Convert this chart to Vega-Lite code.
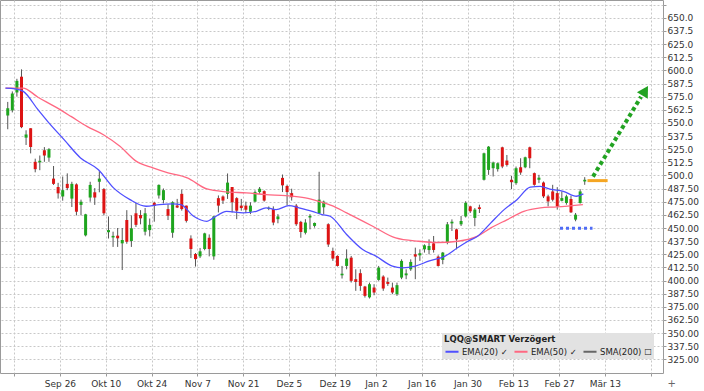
{
  "$schema": "https://vega.github.io/schema/vega-lite/v6.json",
  "width": 663,
  "height": 373,
  "autosize": {"type": "none"},
  "padding": {"left": 0, "top": 0, "right": 41, "bottom": 18},
  "background": "white",
  "config": {
    "font": "DejaVu Sans",
    "view": {"stroke": "#9a9a9a", "strokeWidth": 1},
    "axis": {"labelOverlap": false}
  },
  "datasets": {
    "candles": [
      {"i":0,"o":557,"h":570,"l":544,"c":564},
      {"i":1,"o":562,"h":580,"l":560,"c":578},
      {"i":2,"o":579,"h":592,"l":575,"c":590},
      {"i":3,"o":594,"h":601,"l":545,"c":546},
      {"i":4,"o":536,"h":543,"l":529,"c":539},
      {"i":5,"o":545,"h":545,"l":521,"c":527},
      {"i":6,"o":513,"h":516,"l":503,"c":506},
      {"i":7,"o":512.5,"h":519,"l":505,"c":514},
      {"i":8,"o":524,"h":527,"l":513,"c":519},
      {"i":9,"o":517,"h":526,"l":513,"c":525},
      {"i":10,"o":497,"h":509,"l":491,"c":492},
      {"i":11,"o":489,"h":493,"l":478,"c":483},
      {"i":12,"o":480,"h":499,"l":476,"c":486},
      {"i":13,"o":492,"h":502,"l":486,"c":488},
      {"i":14,"o":478,"h":494,"l":470,"c":492},
      {"i":15,"o":491.5,"h":492.5,"l":462,"c":465.5},
      {"i":16,"o":472,"h":477,"l":462,"c":475},
      {"i":17,"o":443,"h":463.5,"l":442,"c":463},
      {"i":18,"o":479,"h":494,"l":475,"c":491},
      {"i":19,"o":484,"h":488,"l":472,"c":479},
      {"i":20,"o":494,"h":504,"l":484,"c":497},
      {"i":21,"o":487,"h":488,"l":462,"c":464},
      {"i":22,"o":446,"h":461,"l":440,"c":448},
      {"i":23,"o":441,"h":446.5,"l":432,"c":442.5},
      {"i":24,"o":442.7,"h":450,"l":432,"c":440.2},
      {"i":25,"o":435.4,"h":450,"l":410,"c":438.6},
      {"i":26,"o":457.6,"h":467,"l":435,"c":437},
      {"i":27,"o":437.6,"h":462,"l":432,"c":449.7},
      {"i":28,"o":464,"h":474,"l":451,"c":453},
      {"i":29,"o":462.3,"h":467,"l":453.5,"c":459.2},
      {"i":30,"o":446.5,"h":469,"l":443,"c":464},
      {"i":31,"o":448,"h":459,"l":442,"c":453},
      {"i":32,"o":474,"h":475,"l":456,"c":471},
      {"i":33,"o":481,"h":491.5,"l":478,"c":491},
      {"i":34,"o":476.6,"h":487.6,"l":473.4,"c":486},
      {"i":35,"o":468,"h":472.5,"l":457.6,"c":461.7},
      {"i":36,"o":445.5,"h":475.5,"l":440.7,"c":474.5},
      {"i":37,"o":471.4,"h":477.7,"l":469,"c":469.5},
      {"i":38,"o":482.5,"h":486.7,"l":466.5,"c":468},
      {"i":39,"o":471.3,"h":471.3,"l":455.2,"c":456.8},
      {"i":40,"o":440,"h":443,"l":421.4,"c":430},
      {"i":41,"o":425.2,"h":426.2,"l":413.3,"c":420.4},
      {"i":42,"o":423,"h":431,"l":421.4,"c":427.8},
      {"i":43,"o":430,"h":445.5,"l":428.8,"c":444.9},
      {"i":44,"o":440.7,"h":443.9,"l":423,"c":430},
      {"i":45,"o":423,"h":461.6,"l":419.8,"c":461},
      {"i":46,"o":478.4,"h":481,"l":464.8,"c":471.3},
      {"i":47,"o":480,"h":481,"l":472.9,"c":476.1},
      {"i":48,"o":482.5,"h":501.9,"l":477.7,"c":493.2},
      {"i":49,"o":489,"h":489,"l":464.8,"c":474.5},
      {"i":50,"o":478.4,"h":479.3,"l":458.4,"c":466.5},
      {"i":51,"o":471.3,"h":477.7,"l":466.5,"c":469},
      {"i":52,"o":471.3,"h":475.1,"l":464.2,"c":467.4},
      {"i":53,"o":465.5,"h":474.5,"l":463.2,"c":471.3},
      {"i":54,"o":475.1,"h":485.8,"l":474.5,"c":484.2},
      {"i":55,"o":484.2,"h":489,"l":482.5,"c":487.4},
      {"i":56,"o":485.1,"h":485.8,"l":475.1,"c":476.1},
      {"i":57,"o":468.3,"h":470.5,"l":467,"c":469.3},
      {"i":58,"o":468,"h":470.6,"l":452.6,"c":455.2},
      {"i":59,"o":458.4,"h":463.2,"l":454.5,"c":461},
      {"i":60,"o":497.7,"h":500.9,"l":484.2,"c":490.6},
      {"i":61,"o":490,"h":491.3,"l":471.3,"c":484.2},
      {"i":62,"o":483.2,"h":487.4,"l":476.1,"c":479.3},
      {"i":63,"o":471.3,"h":472.9,"l":452,"c":453.6},
      {"i":64,"o":455.8,"h":456.8,"l":440.7,"c":446.2},
      {"i":65,"o":445.5,"h":458.4,"l":443.9,"c":455.2},
      {"i":66,"o":460,"h":463.2,"l":448.7,"c":461.5},
      {"i":67,"o":452,"h":455.2,"l":450.4,"c":454.8},
      {"i":68,"o":463.9,"h":503.5,"l":463.2,"c":477},
      {"i":69,"o":469.7,"h":476.1,"l":463.2,"c":475.1},
      {"i":70,"o":453.6,"h":454.5,"l":432,"c":434.3},
      {"i":71,"o":428.2,"h":431.3,"l":418.7,"c":420.9},
      {"i":72,"o":423.4,"h":424,"l":413.3,"c":413.9},
      {"i":73,"o":405,"h":413.9,"l":401.9,"c":406.5},
      {"i":74,"o":413.9,"h":429.7,"l":410.7,"c":420.9},
      {"i":75,"o":421.8,"h":423.4,"l":398.1,"c":399.7},
      {"i":76,"o":401.3,"h":410.7,"l":390.2,"c":398.7},
      {"i":77,"o":407,"h":410.7,"l":390.2,"c":394.9},
      {"i":78,"o":394.3,"h":394.9,"l":383.8,"c":385.4},
      {"i":79,"o":384,"h":398,"l":382.9,"c":396.5},
      {"i":80,"o":393.3,"h":396.5,"l":386,"c":388.6},
      {"i":81,"o":400.6,"h":413.9,"l":399.7,"c":412.3},
      {"i":82,"o":403.8,"h":405,"l":390.2,"c":392.4},
      {"i":83,"o":398.7,"h":402.8,"l":394.9,"c":396.8},
      {"i":84,"o":393.3,"h":398,"l":387,"c":388.6},
      {"i":85,"o":387,"h":398,"l":385.4,"c":395.6},
      {"i":86,"o":402.8,"h":420.2,"l":401.3,"c":418.7},
      {"i":87,"o":405,"h":410.7,"l":401.3,"c":406.8},
      {"i":88,"o":410.7,"h":420.2,"l":409.2,"c":417.7},
      {"i":89,"o":425,"h":431.3,"l":401.3,"c":422.8},
      {"i":90,"o":424,"h":429.7,"l":418.7,"c":426},
      {"i":91,"o":429.7,"h":434.5,"l":426.6,"c":433.5},
      {"i":92,"o":429,"h":439.2,"l":425,"c":432.9},
      {"i":93,"o":435.4,"h":442.4,"l":426.6,"c":429.1},
      {"i":94,"o":422.8,"h":424,"l":413.3,"c":413.9},
      {"i":95,"o":419.6,"h":427.2,"l":415.5,"c":426.6},
      {"i":96,"o":436,"h":455.7,"l":434.5,"c":453.5},
      {"i":97,"o":454.4,"h":458.2,"l":447.2,"c":456},
      {"i":98,"o":448.7,"h":449.4,"l":429.7,"c":439.2},
      {"i":99,"o":453.5,"h":461.4,"l":451.9,"c":456.7},
      {"i":100,"o":461,"h":475.5,"l":460,"c":474},
      {"i":101,"o":470.6,"h":471.2,"l":464.3,"c":465.9},
      {"i":102,"o":459.6,"h":469,"l":451.7,"c":467.5},
      {"i":103,"o":469.7,"h":472.2,"l":464.3,"c":468.1},
      {"i":104,"o":495.9,"h":521.7,"l":495.2,"c":521.1},
      {"i":105,"o":505.3,"h":528,"l":500.6,"c":527.4},
      {"i":106,"o":506.9,"h":513.2,"l":499,"c":512.3},
      {"i":107,"o":506,"h":512.3,"l":503.7,"c":511.6},
      {"i":108,"o":526.8,"h":527.4,"l":506.9,"c":508.5},
      {"i":109,"o":514.2,"h":519.5,"l":508.5,"c":510},
      {"i":110,"o":495.9,"h":499.6,"l":487,"c":493.6},
      {"i":111,"o":492.7,"h":508.5,"l":491.1,"c":506.9},
      {"i":112,"o":507.8,"h":516.4,"l":500.6,"c":502.8},
      {"i":113,"o":507.8,"h":517.9,"l":506.9,"c":517.3},
      {"i":114,"o":526.8,"h":527.4,"l":506.9,"c":516.4},
      {"i":115,"o":502.2,"h":502.8,"l":490.2,"c":491.1},
      {"i":116,"o":495.9,"h":500.6,"l":492.7,"c":497.9},
      {"i":117,"o":493.3,"h":494.3,"l":478.5,"c":480.1},
      {"i":118,"o":480.1,"h":481.7,"l":470.6,"c":475.3},
      {"i":119,"o":484.8,"h":491.1,"l":475.3,"c":476.9},
      {"i":120,"o":483.2,"h":488.9,"l":467.5,"c":470.6},
      {"i":121,"o":475.9,"h":484.8,"l":475.3,"c":478.5},
      {"i":122,"o":473.8,"h":481.7,"l":472.2,"c":480.1},
      {"i":123,"o":477.6,"h":480.7,"l":464.3,"c":464.9},
      {"i":124,"o":458,"h":464.3,"l":456.4,"c":462.7},
      {"i":125,"o":473.8,"h":487,"l":473.2,"c":484.8},
      {"i":126,"o":494.3,"h":498.4,"l":491.1,"c":495.9}
    ],
    "ma": [
      {"series":"EMA(50)","i":-0.5,"v":583.2},
      {"series":"EMA(50)","i":3.3,"v":583.2},
      {"series":"EMA(50)","i":6.6,"v":574.5},
      {"series":"EMA(50)","i":10.2,"v":565.7},
      {"series":"EMA(50)","i":13.8,"v":556.2},
      {"series":"EMA(50)","i":17.3,"v":546.7},
      {"series":"EMA(50)","i":20.9,"v":538.8},
      {"series":"EMA(50)","i":24.5,"v":527.7},
      {"series":"EMA(50)","i":28.1,"v":513.4},
      {"series":"EMA(50)","i":31.7,"v":507.2},
      {"series":"EMA(50)","i":35.0,"v":502.5},
      {"series":"EMA(50)","i":39.2,"v":497.7},
      {"series":"EMA(50)","i":43.5,"v":487.2},
      {"series":"EMA(50)","i":47.8,"v":484.4},
      {"series":"EMA(50)","i":52.1,"v":483.4},
      {"series":"EMA(50)","i":56.4,"v":481.8},
      {"series":"EMA(50)","i":60.7,"v":480.8},
      {"series":"EMA(50)","i":65.0,"v":478.7},
      {"series":"EMA(50)","i":67.9,"v":475.4},
      {"series":"EMA(50)","i":70.8,"v":471.3},
      {"series":"EMA(50)","i":74.0,"v":464.4},
      {"series":"EMA(50)","i":79.7,"v":451.7},
      {"series":"EMA(50)","i":84.7,"v":440.6},
      {"series":"EMA(50)","i":89.7,"v":437.4},
      {"series":"EMA(50)","i":94.0,"v":436.2},
      {"series":"EMA(50)","i":98.3,"v":437.4},
      {"series":"EMA(50)","i":102.6,"v":442.2},
      {"series":"EMA(50)","i":105.5,"v":450.1},
      {"series":"EMA(50)","i":109.1,"v":458.0},
      {"series":"EMA(50)","i":112.7,"v":465.9},
      {"series":"EMA(50)","i":116.3,"v":469.2},
      {"series":"EMA(50)","i":119.9,"v":470.1},
      {"series":"EMA(50)","i":125.6,"v":472.3},
      {"series":"EMA(20)","i":-0.5,"v":583.2},
      {"series":"EMA(20)","i":1.6,"v":582.5},
      {"series":"EMA(20)","i":3.4,"v":580.0},
      {"series":"EMA(20)","i":6.6,"v":562.6},
      {"series":"EMA(20)","i":8.7,"v":551.5},
      {"series":"EMA(20)","i":12.3,"v":534.1},
      {"series":"EMA(20)","i":15.9,"v":516.7},
      {"series":"EMA(20)","i":19.8,"v":505.5},
      {"series":"EMA(20)","i":23.1,"v":488.2},
      {"series":"EMA(20)","i":26.7,"v":477.0},
      {"series":"EMA(20)","i":30.2,"v":470.7},
      {"series":"EMA(20)","i":33.1,"v":472.3},
      {"series":"EMA(20)","i":36.0,"v":473.0},
      {"series":"EMA(20)","i":37.8,"v":472.3},
      {"series":"EMA(20)","i":40.6,"v":461.2},
      {"series":"EMA(20)","i":43.5,"v":456.4},
      {"series":"EMA(20)","i":44.9,"v":459.6},
      {"series":"EMA(20)","i":47.8,"v":465.9},
      {"series":"EMA(20)","i":51.4,"v":464.4},
      {"series":"EMA(20)","i":54.3,"v":465.9},
      {"series":"EMA(20)","i":56.4,"v":469.2},
      {"series":"EMA(20)","i":58.6,"v":467.5},
      {"series":"EMA(20)","i":61.4,"v":471.3},
      {"series":"EMA(20)","i":63.6,"v":469.2},
      {"series":"EMA(20)","i":66.5,"v":465.9},
      {"series":"EMA(20)","i":68.6,"v":462.8},
      {"series":"EMA(20)","i":70.4,"v":461.2},
      {"series":"EMA(20)","i":74.0,"v":443.8},
      {"series":"EMA(20)","i":77.5,"v":429.5},
      {"series":"EMA(20)","i":80.4,"v":423.2},
      {"series":"EMA(20)","i":84.0,"v":413.7},
      {"series":"EMA(20)","i":86.2,"v":412.1},
      {"series":"EMA(20)","i":89.0,"v":413.7},
      {"series":"EMA(20)","i":91.9,"v":418.4},
      {"series":"EMA(20)","i":95.5,"v":423.2},
      {"series":"EMA(20)","i":98.3,"v":431.4},
      {"series":"EMA(20)","i":100.5,"v":437.4},
      {"series":"EMA(20)","i":102.6,"v":442.2},
      {"series":"EMA(20)","i":105.5,"v":454.9},
      {"series":"EMA(20)","i":108.4,"v":467.5},
      {"series":"EMA(20)","i":111.2,"v":477.0},
      {"series":"EMA(20)","i":114.1,"v":488.9},
      {"series":"EMA(20)","i":116.3,"v":489.7},
      {"series":"EMA(20)","i":118.4,"v":487.0},
      {"series":"EMA(20)","i":121.3,"v":484.9},
      {"series":"EMA(20)","i":124.2,"v":480.2},
      {"series":"EMA(20)","i":125.7,"v":482.5}
    ],
    "support": [{"i":120.6,"v":449.8},{"i":127.7,"v":449.8}],
    "resistance": [{"i":126.6,"v":495.1},{"i":131.0,"v":495.1}],
    "arrow": [{"i":127.8,"v":498.9},{"i":138.3,"v":575.0}],
    "arrowhead": [{"i":139.2,"v":580.6}]
  },
  "encoding": {
    "x": {
      "field": "i", "type": "quantitative",
      "scale": {"domain": [-0.6, 142], "nice": false, "zero": false},
      "axis": {
        "title": null,
        "tickCount": 30,
        "values": [1.4, 11.4, 21.4, 31.4, 41.4, 51.4, 61.4, 71.4, 80.4, 90.4, 100.4, 110.4, 120.4, 130.4, 140.4],
        "labelExpr": "datum.value == 11.4 ? 'Sep 26' : datum.value == 21.4 ? 'Okt 10' : datum.value == 31.4 ? 'Okt 24' : datum.value == 41.4 ? 'Nov 7' : datum.value == 51.4 ? 'Nov 21' : datum.value == 61.4 ? 'Dez 5' : datum.value == 71.4 ? 'Dez 19' : datum.value == 80.4 ? 'Jan 2' : datum.value == 90.4 ? 'Jan 16' : datum.value == 100.4 ? 'Jan 30' : datum.value == 110.4 ? 'Feb 13' : datum.value == 120.4 ? 'Feb 27' : datum.value == 130.4 ? 'Mär 13' : ''",
        "grid": true, "gridDash": [2, 2], "gridColor": "#c8c8c8", "gridWidth": 1,
        "domain": false, "ticks": true, "tickSize": 3, "tickColor": "#9a9a9a",
        "labelFont": "DejaVu Sans", "labelFontSize": 9, "labelColor": "#333333",
        "labelPadding": 3, "labelOverlap": false, "labelFlush": false
      }
    }
  },
  "layer": [
    {
      "data": {"name": "candles"},
      "mark": {"type": "rule", "color": "#555555", "strokeWidth": 1},
      "encoding": {
        "y": {
          "field": "l", "type": "quantitative",
          "scale": {"domain": [312, 667], "nice": false, "zero": false},
          "axis": {
            "orient": "right",
            "tickCount": 40,
            "title": "+", "titleAngle": 0, "titleX": 4, "titleY": 383, "titleAlign": "left", "titleBaseline": "middle",
            "titleFontSize": 10, "titleFontWeight": "normal", "titleColor": "#666666",
            "values": [325, 337.5, 350, 362.5, 375, 387.5, 400, 412.5, 425, 437.5, 450, 462.5, 475, 487.5, 500, 512.5, 525, 537.5, 550, 562.5, 575, 587.5, 600, 612.5, 625, 637.5, 650, 662.5],
            "labelExpr": "datum.value > 655 ? '' : (datum.value >= 500 ? format(datum.value, '.1f') : format(datum.value, '.2f'))",
            "grid": true, "gridDash": [2, 2], "gridColor": "#c8c8c8", "gridWidth": 1,
            "domain": false, "ticks": true, "tickSize": 3, "tickColor": "#9a9a9a",
            "labelFont": "DejaVu Sans", "labelFontSize": 9, "labelColor": "#333333",
            "labelPadding": 1, "labelOverlap": false, "labelFlush": false
          }
        },
        "y2": {"field": "h"}
      }
    },
    {
      "data": {"name": "candles"},
      "mark": {"type": "bar", "width": 3},
      "encoding": {
        "y": {"field": "o", "type": "quantitative"},
        "y2": {"field": "c"},
        "color": {"condition": {"test": "datum.c >= datum.o", "value": "#1ea51e"}, "value": "#dd1414"}
      }
    },
    {
      "data": {"name": "ma"},
      "mark": {"type": "line", "strokeWidth": 1.3, "interpolate": "monotone"},
      "encoding": {
        "y": {"field": "v", "type": "quantitative"},
        "color": {
          "field": "series", "type": "nominal",
          "scale": {"domain": ["EMA(20)", "EMA(50)", "SMA(200)"], "range": ["#4f4fff", "#ff6882", "#666666"]},
          "legend": {
            "orient": "none", "legendX": 442, "legendY": 333,
            "direction": "horizontal",
            "title": "LQQ@SMART Verzögert",
            "titleFont": "DejaVu Sans", "titleFontSize": 8.5, "titleFontWeight": "bold", "titleColor": "#222222", "titlePadding": 0,
            "labelFont": "DejaVu Sans", "labelFontSize": 8.5, "labelColor": "#222222", "labelOffset": 2,
            "labelExpr": "datum.label == 'SMA(200)' ? datum.label + ' ☐' : datum.label + ' ✓'",
            "symbolType": "stroke", "symbolStrokeWidth": 2, "symbolSize": 170,
            "fillColor": "#e2e2e2", "padding": 2, "columnPadding": 2, "cornerRadius": 0
          }
        }
      }
    },
    {
      "data": {"name": "support"},
      "mark": {"type": "line", "color": "#4f6cf5", "strokeWidth": 3, "strokeDash": [3, 3]},
      "encoding": {
        "y": {"field": "v", "type": "quantitative"}
      }
    },
    {
      "data": {"name": "resistance"},
      "mark": {"type": "line", "color": "#f5a623", "strokeWidth": 3},
      "encoding": {
        "y": {"field": "v", "type": "quantitative"}
      }
    },
    {
      "data": {"name": "arrow"},
      "mark": {"type": "line", "color": "#22a322", "strokeWidth": 4, "strokeDash": [4, 3]},
      "encoding": {
        "y": {"field": "v", "type": "quantitative"}
      }
    },
    {
      "data": {"name": "arrowhead"},
      "mark": {"type": "point", "shape": "triangle-up", "angle": 31, "size": 160, "filled": true, "color": "#22a322", "opacity": 1},
      "encoding": {
        "y": {"field": "v", "type": "quantitative"}
      }
    }
  ]
}
